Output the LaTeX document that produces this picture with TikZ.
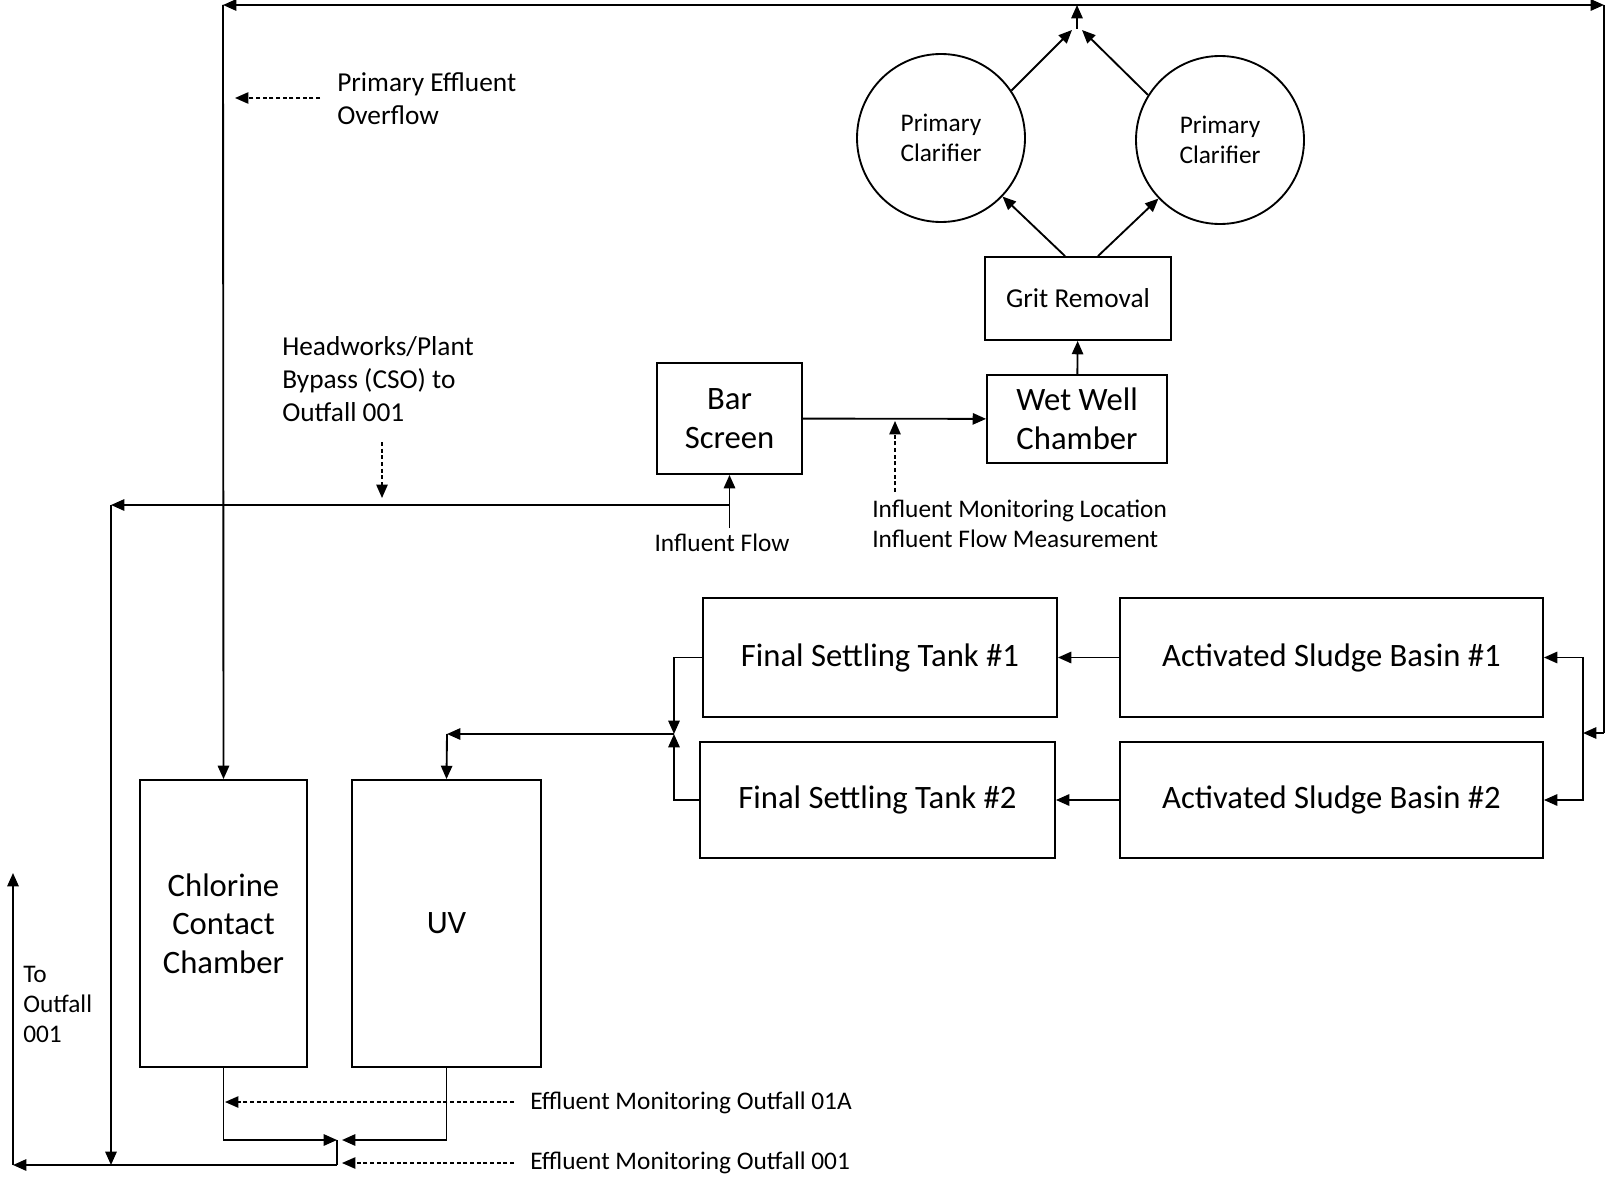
\documentclass[tikz,border=0pt]{standalone}
\usepackage{fontspec}
\setmainfont{Carlito}
\usetikzlibrary{arrows.meta}

\begin{document}
\begin{tikzpicture}[
    x=0.75pt, y=-0.75pt,
    unit/.style 2 args={draw, line width=1.4pt, align=center, inner sep=2pt,
        minimum width=#1*0.75pt, minimum height=#2*0.75pt,
        font=\fontsize{24.5}{29}\selectfont},
    tank/.style={circle, draw, line width=1.4pt, align=center, inner sep=0pt,
        minimum size=168*0.75pt, font=\fontsize{19}{22.5}\selectfont},
    note/.style={align=left, inner sep=0pt, font=\fontsize{19}{22.5}\selectfont},
    bignote/.style={align=left, inner sep=0pt, font=\fontsize{20.5}{25}\selectfont},
    arrow/.style={-{Triangle[length=10pt, width=8.5pt]}, line width=1.4pt},
    dotarrow/.style={arrow, line width=1.1pt, dash pattern=on 3pt off 2pt}
]
\useasboundingbox (0,0) rectangle (1606,1177);

\node[tank] (C1) at (941,138) {Primary\\Clarifier};
\node[tank] (C2) at (1220,140) {Primary\\Clarifier};
\node[unit={186}{83}, font=\fontsize{20.5}{25}\selectfont] (G) at (1078,298.5) {Grit Removal};
\node[unit={180}{88}] (W) at (1077,419) {Wet Well\\Chamber};
\node[unit={145}{111}] (B) at (729.5,418.5) {Bar\\Screen};
\node[unit={354}{119}] (F1) at (880,657.5) {Final Settling Tank \#1};
\node[unit={355}{116}] (F2) at (877.5,800) {Final Settling Tank \#2};
\node[unit={423}{119}] (A1) at (1331.5,657.5) {Activated Sludge Basin \#1};
\node[unit={423}{116}] (A2) at (1331.5,800) {Activated Sludge Basin \#2};
\node[unit={167}{287}] (CC) at (223.5,923.5) {Chlorine\\Contact\\Chamber};
\node[unit={189}{287}] (UV) at (446.5,923.5) {UV};

\node[bignote, anchor=west] (PEO) at (337,98.5) {Primary Effluent\\Overflow};
\node[bignote, anchor=west] (HPB) at (282,379) {Headworks/Plant\\Bypass (CSO) to\\Outfall 001};
\node[note] (INF) at (722,543) {Influent Flow};
\node[note, anchor=west] (IML) at (872,523.5) {Influent Monitoring Location\\Influent Flow Measurement};
\node[note, anchor=west] (EM1) at (530,1103) {Effluent Monitoring Outfall 01A};
\node[note, anchor=west] (EM2) at (530,1163) {Effluent Monitoring Outfall 001};
\node[note, anchor=west] (TOO) at (23,1004) {To\\Outfall\\001};

\coordinate (InfT) at (729.5,528);
\coordinate (J1) at (1072,30);
\coordinate (J2) at (1082,30);
\coordinate (Jn) at (1077,29);
\coordinate (TopM) at (1077,5);
\coordinate (TopL) at (223,5);
\coordinate (TopR) at (1604,5);
\coordinate (RC) at (1604,733);
\coordinate (RJ) at (1583,733);
\coordinate (FJ) at (674,734);
\coordinate (UVJ) at (447,734);
\coordinate (Byp) at (729.5,505);
\coordinate (BypL) at (111,505);
\coordinate (BypD) at (111,1165);
\coordinate (Mix) at (337,1140);
\coordinate (MixR) at (342,1140);
\coordinate (Out) at (337,1165);
\coordinate (OutL) at (13,1165);
\coordinate (OutUp) at (13,873);
\coordinate (PEOa) at (320,98);
\coordinate (PEOb) at (235,98);
\coordinate (HPBa) at (382,442);
\coordinate (HPBb) at (382,498);
\coordinate (IMLa) at (895,492);
\coordinate (IMLb) at (895,421);
\coordinate (EM1a) at (514,1102);
\coordinate (EM1b) at (225,1102);
\coordinate (EM2a) at (514,1163);
\coordinate (EM2b) at (342,1163);

\draw[arrow] (InfT) -- (B.south);
\draw[arrow] (B) -- (W);
\draw[arrow] (W) -- (G);
\draw[arrow] ([xshift=-9.75pt]G.north) -- (C1);
\draw[arrow] ([xshift=15pt]G.north) -- (C2);
\draw[arrow] (C1.34) -- (J1);
\draw[arrow] (C2.148) -- (J2);
\draw[arrow] (Jn) -- (TopM);
\draw[arrow] (TopM) -- (TopL);
\draw[arrow] (TopM) -- (TopR);
\draw[arrow] (TopL) -- (CC.north);
\draw[line width=1.4pt] (TopR) -- (RC);
\draw[arrow] (RC) -- (RJ);
\draw[arrow] (RJ) |- (A1);
\draw[arrow] (RJ) |- (A2);
\draw[arrow] (A1) -- (F1);
\draw[arrow] (A2) -- (F2);
\draw[arrow] (F1.west) -| (FJ);
\draw[arrow] (F2.west) -| (FJ);
\draw[arrow] (FJ) -- (UVJ);
\draw[arrow] (UVJ) -- (UV.north);
\draw[arrow] (Byp) -- (BypL);
\draw[arrow] (BypL) -- (BypD);
\draw[arrow] (CC.south) |- (Mix);
\draw[arrow] (UV.south) |- (MixR);
\draw[line width=1.4pt] (Mix) -- (Out);
\draw[arrow] (Out) -- (OutL);
\draw[arrow] (OutL) -- (OutUp);

\draw[dotarrow] (PEOa) -- (PEOb);
\draw[dotarrow] (HPBa) -- (HPBb);
\draw[dotarrow] (IMLa) -- (IMLb);
\draw[dotarrow] (EM1a) -- (EM1b);
\draw[dotarrow] (EM2a) -- (EM2b);
\end{tikzpicture}
\end{document}
